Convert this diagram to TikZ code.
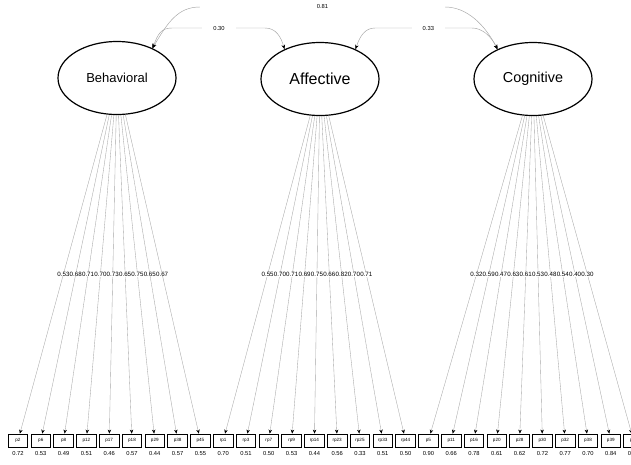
\documentclass[tikz,border=0pt]{standalone}
\usepackage{fontspec}
\setmainfont{Liberation Sans}
\usetikzlibrary{shapes.geometric,arrows.meta}
\begin{document}
\begin{tikzpicture}[x=1pt,y=-1pt,
  latent/.style={ellipse,draw=black,line width=1.2pt,minimum width=118pt,minimum height=73pt,inner sep=0pt},
  manifest/.style={rectangle,draw=black,line width=0.8pt,minimum width=19.5pt,minimum height=13pt,inner sep=0pt,font=\fontsize{4.6}{4.6}\selectfont},
  resid/.style={inner sep=0pt,font=\fontsize{5.8}{5.8}\selectfont},
  loadedge/.style={draw=gray!70,line width=0.35pt,-{Stealth[length=4pt,width=3.4pt,color=black]}},
  loadlbl/.style={fill=white,inner sep=0pt,font=\fontsize{6.2}{6.2}\selectfont},
  covedge/.style={draw=gray!70,line width=0.45pt,{Stealth[length=4.5pt,width=3.6pt,color=black]}-{Stealth[length=4.5pt,width=3.6pt,color=black]}},
  covlbl/.style={fill=white,inner sep=0pt,minimum height=5pt,font=\fontsize{5.8}{5.8}\selectfont}
]
\clip (0,0) rectangle (631,464);
\fill[white] (0,0) rectangle (631,464);

\node[latent,font=\fontsize{13}{13}\selectfont] (beh) at (117,78) {Behavioral};
\node[latent,font=\fontsize{16}{16}\selectfont] (aff) at (320,79) {Affective};
\node[latent,font=\fontsize{14.4}{14.4}\selectfont] (cog) at (533,79) {Cognitive};

\foreach \i/\lab/\res in {0/p2/0.72,1/p6/0.53,2/p8/0.49,3/p12/0.51,4/p17/0.46,5/p18/0.57,6/p29/0.44,7/p38/0.57,8/p45/0.55,
  9/rp1/0.70,10/rp3/0.51,11/rp7/0.50,12/rp9/0.53,13/rp14/0.44,14/rp23/0.56,15/rp25/0.33,16/rp33/0.51,17/rp44/0.50,
  18/p5/0.90,19/p11/0.66,20/p16/0.78,21/p20/0.61,22/p28/0.62,23/p30/0.72,24/p32/0.77,25/p38/0.70,26/p39/0.84,27/p42/0.91}{
  \node[manifest] (m\i) at ({18+22.8*\i},440.5) {\lab};
  \node[resid] (r\i) at ({18+22.8*\i},453.5) {\res};
}

\foreach \i/\l in {0/0.53,1/0.68,2/0.71,3/0.70,4/0.73,5/0.65,6/0.75,7/0.65,8/0.67}
  \draw[loadedge] (beh) -- node[loadlbl]{\l} (m\i);
\foreach \i/\l in {9/0.55,10/0.70,11/0.71,12/0.69,13/0.75,14/0.66,15/0.82,16/0.70,17/0.71}
  \draw[loadedge] (aff) -- node[loadlbl]{\l} (m\i);
\foreach \i/\l in {18/0.32,19/0.59,20/0.47,21/0.63,22/0.61,23/0.53,24/0.48,25/0.54,26/0.40,27/0.30}
  \draw[loadedge] (cog) -- node[loadlbl]{\l} (m\i);

\draw[covedge] (beh.40) .. controls (168,22) and (178,7) .. (200,7)
  -- node[covlbl,minimum width=245pt] (c81) {0.81} (445,7)
  .. controls (467,7) and (485,25) .. (cog.140);
\draw[covedge] (beh.40) .. controls (158,34) and (161,28) .. (172,28)
  -- node[covlbl,minimum width=34pt,pos=0.505] (c30) {0.30} (265,28)
  .. controls (276,28) and (281,37) .. (aff.140);
\draw[covedge] (aff.40) .. controls (360,36) and (365,28) .. (375,28)
  -- node[covlbl,minimum width=33pt,pos=0.55] (c33) {0.33} (472,28)
  .. controls (482,28) and (491,36) .. (cog.140);
\end{tikzpicture}
\end{document}
